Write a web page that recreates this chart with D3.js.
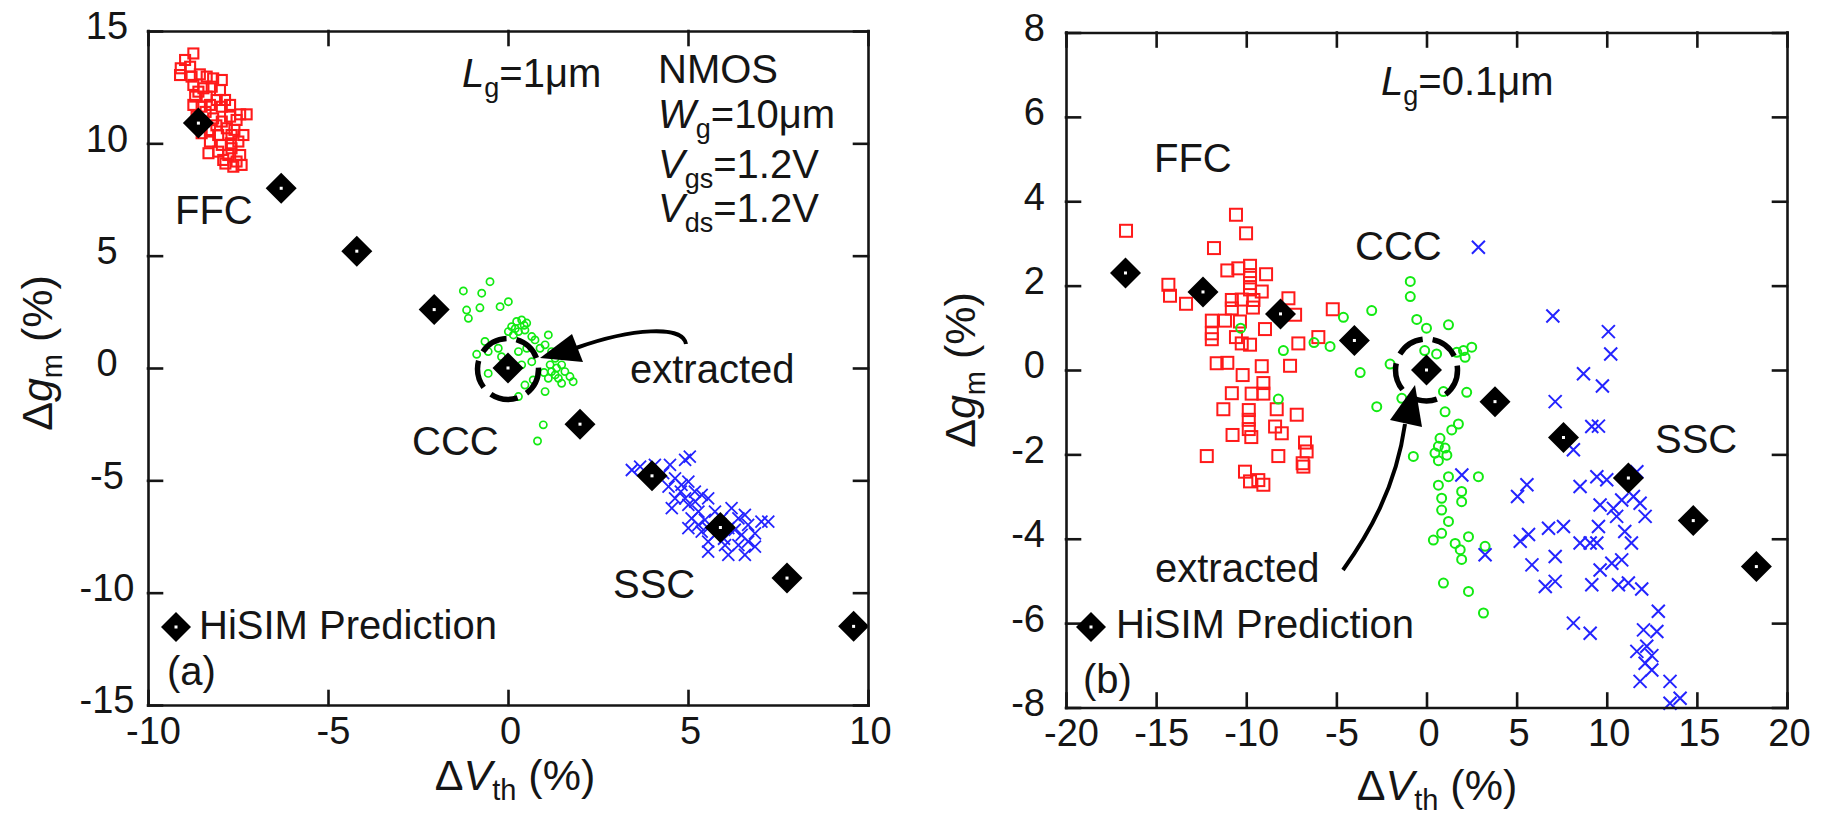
<!DOCTYPE html>
<html>
<head>
<meta charset="utf-8">
<script src="https://cdnjs.cloudflare.com/ajax/libs/d3/7.8.5/d3.min.js"></script>
<style>
  body { margin: 0; background: #fff; }
  svg text { font-family: "Liberation Sans", Arial, sans-serif; fill: #151515; }
</style>
</head>
<body>
<div id="chart"></div>
<script>
// ---- data (a): Lg = 1um ----
var aTicksX = [-10, -5, 0, 5, 10];
var aTicksY = [-15, -10, -5, 0, 5, 10, 15];
var aHisim = [[-8.6, 10.9], [-6.3, 8.0], [-4.2, 5.2], [-2.05, 2.6], [0, 0], [2.0, -2.5], [4.0, -4.8], [5.9, -7.1], [7.75, -9.35], [9.6, -11.5]];
var aFFC = [[-8.74, 14.0], [-8.97, 13.71], [-9.09, 13.34], [-8.83, 13.41], [-9.11, 13.04], [-8.79, 12.97], [-8.56, 13.07], [-8.37, 12.97],
  [-8.19, 12.89], [-7.95, 12.82], [-8.74, 12.6], [-8.46, 12.45], [-8.23, 12.52], [-8.0, 12.37], [-8.69, 12.08], [-8.37, 12.08],
  [-8.09, 11.93], [-7.86, 11.93], [-7.72, 11.71], [-8.74, 11.71], [-8.51, 11.63], [-8.28, 11.71], [-7.95, 11.63], [-7.44, 11.29],
  [-7.26, 11.29], [-7.72, 11.19], [-7.54, 11.04], [-8.65, 11.19], [-8.46, 10.97], [-8.19, 11.11], [-7.95, 10.97], [-7.81, 10.67],
  [-8.28, 10.59], [-8.51, 10.45], [-8.05, 10.37], [-7.68, 10.37], [-7.35, 10.37], [-7.49, 10.08], [-8.28, 10.08], [-7.95, 9.93],
  [-7.68, 9.78], [-8.32, 9.56], [-8.05, 9.63], [-7.77, 9.48], [-7.44, 9.48], [-7.54, 9.19], [-7.91, 9.26], [-7.40, 9.04], [-7.63, 8.96],
  [-8.1, 10.8], [-7.6, 10.6], [-8.4, 11.4], [-7.85, 9.1], [-8.6, 12.3], [-7.7, 10.0]];
var aCCC = [[-1.24, 3.43], [-0.73, 3.33], [-0.50, 3.84], [-1.15, 2.58], [-1.10, 2.21], [-0.78, 2.68], [-0.22, 2.73], [0.01, 2.95],
  [0.10, 1.84], [0.24, 2.07], [0.38, 2.14], [0.52, 2.0], [0.47, 1.69], [0.29, 1.62], [0.66, 1.40], [0.15, 1.47], [0.01, 1.62],
  [1.12, 1.47], [0.75, 1.25], [-0.64, 1.18], [-0.87, 0.61], [-0.55, 0.73], [-0.27, 0.88], [0.29, 0.73], [0.52, 0.88], [0.89, 0.88],
  [1.03, 1.03], [1.21, 0.73], [1.31, 0.43], [1.49, 0.14], [1.58, -0.16], [1.31, -0.31], [1.12, -0.46], [1.81, -0.61], [1.49, -0.68],
  [1.03, -1.05], [0.47, -0.76], [0.29, -1.27], [-0.55, -0.24], [0.70, -0.53], [1.17, 0.14], [1.35, 0.0], [1.40, -0.46], [1.21, -0.16],
  [1.72, -0.38], [0.98, -2.53], [0.82, -3.25], [-0.18, 0.5], [0.38, 0.14], [0.66, 0.28], [0.45, 1.9], [0.2, 1.75], [1.0, -0.2]];
var aSSC = [[3.44, -4.54], [3.67, -4.39], [4.08, -4.31], [4.31, -4.68], [4.50, -4.31], [4.92, -4.09], [5.05, -3.94], [4.64, -4.91],
  [4.46, -5.28], [4.82, -5.20], [5.01, -5.06], [5.19, -5.5], [4.64, -5.8], [4.92, -5.8], [5.38, -5.65], [5.56, -5.8], [5.01, -6.09],
  [4.55, -6.24], [5.29, -6.39], [5.75, -6.39], [6.21, -6.24], [5.10, -6.69], [5.47, -6.76], [5.94, -6.69], [6.40, -6.69], [6.58, -6.54],
  [6.12, -7.13], [6.67, -6.98], [7.04, -6.84], [7.23, -6.84], [5.01, -7.13], [5.38, -7.28], [5.75, -7.43], [6.49, -7.43], [6.86, -7.36],
  [5.56, -7.73], [6.03, -7.88], [6.40, -7.88], [6.67, -7.73], [6.86, -7.95], [5.56, -8.17], [6.12, -8.32], [6.58, -8.32], [5.29, -6.98],
  [5.56, -7.13], [5.9, -6.95], [6.3, -7.2], [5.2, -5.95], [4.8, -5.5], [6.0, -7.6]];

// ---- data (b): Lg = 0.1um ----
var bTicksX = [-20, -15, -10, -5, 0, 5, 10, 15, 20];
var bTicksY = [-8, -6, -4, -2, 0, 2, 4, 6, 8];
var bHisim = [[-16.7, 2.3], [-12.4, 1.85], [-8.1, 1.33], [-4.0, 0.7], [0, 0], [3.8, -0.75], [7.6, -1.6], [11.2, -2.56], [14.8, -3.57], [18.3, -4.66]];
var bFFC = [[-16.67, 3.30], [-10.57, 3.68], [-10.01, 3.24], [-11.79, 2.89], [-14.32, 2.02], [-14.23, 1.76], [-13.34, 1.57], [-11.05, 2.36],
  [-10.44, 2.41], [-9.79, 2.47], [-9.79, 2.25], [-8.90, 2.27], [-9.79, 2.06], [-9.79, 1.91], [-9.14, 1.86], [-10.8, 1.66], [-10.25, 1.67],
  [-9.6, 1.66], [-10.8, 1.46], [-9.63, 1.48], [-7.66, 1.70], [-7.29, 1.31], [-11.91, 1.17], [-11.18, 1.17], [-10.35, 1.15], [-11.91, 0.87],
  [-11.91, 0.73], [-10.57, 0.78], [-8.96, 0.97], [-10.25, 0.63], [-9.79, 0.60], [-5.2, 1.44], [-6.0, 0.78], [-7.11, 0.63], [-7.57, 0.10],
  [-11.64, 0.16], [-11.05, 0.17], [-10.2, -0.12], [-9.14, 0.09], [-9.05, -0.31], [-10.8, -0.55], [-9.7, -0.56], [-9.05, -0.56],
  [-11.27, -0.93], [-9.86, -0.95], [-9.86, -1.18], [-8.31, -0.93], [-7.2, -1.06], [-8.4, -1.34], [-8.03, -1.50], [-10.76, -1.54],
  [-9.72, -1.59], [-9.86, -1.40], [-12.19, -2.04], [-8.22, -2.04], [-6.74, -1.72], [-6.65, -1.93], [-6.87, -2.21], [-6.83, -2.29],
  [-10.07, -2.41], [-9.79, -2.64], [-9.33, -2.61], [-9.05, -2.72]];
var bCCC = [[-0.9, 2.1], [-0.9, 1.74], [-3.04, 1.41], [-4.61, 1.25], [-10.31, 0.99], [-7.94, 0.46], [-6.24, 0.65], [-5.35, 0.56],
  [-3.68, -0.06], [-8.22, -0.69], [-2.76, -0.87], [-0.54, 1.2], [0, 0.99], [1.22, 1.07], [2.05, 0.46], [2.51, 0.54], [-2.02, 0.14],
  [-1.37, -0.67], [0.94, -0.51], [2.23, -0.53], [1.03, -0.99], [1.77, -1.28], [1.4, -1.42], [0.75, -1.62], [0.66, -1.81], [1.03, -1.85],
  [0.47, -1.97], [1.13, -2.02], [-0.73, -2.05], [0.66, -2.15], [1.22, -2.53], [2.88, -2.53], [0.66, -2.73], [1.95, -2.88], [1.95, -3.12],
  [0.84, -3.04], [0.84, -3.32], [1.22, -3.59], [0.84, -3.87], [0.38, -4.03], [1.59, -4.11], [2.33, -3.95], [1.87, -4.26], [1.95, -4.49],
  [3.25, -4.18], [0.94, -5.05], [2.33, -5.25], [3.16, -5.76], [-0.1, 0.46], [0.56, 0.38], [1.68, 0.42], [2.14, 0.3]];
var bSSC = [[2.88, 2.91], [7.01, 1.28], [10.09, 0.91], [10.22, 0.38], [8.71, -0.09], [9.76, -0.38], [7.14, -0.75], [9.17, -1.34],
  [9.54, -1.33], [8.15, -1.89], [1.96, -2.49], [5.57, -2.72], [5.05, -3.0], [8.52, -2.76], [9.45, -2.53], [10.0, -2.6], [11.67, -2.41],
  [9.63, -3.2], [10.37, -3.28], [10.83, -3.08], [11.85, -3.16], [12.13, -3.47], [10.55, -3.47], [9.54, -3.71], [11.0, -3.83],
  [11.37, -4.1], [5.2, -4.06], [5.66, -3.9], [6.77, -3.75], [7.6, -3.71], [8.52, -4.1], [9.08, -4.1], [9.45, -4.1], [7.14, -4.42],
  [5.85, -4.62], [3.25, -4.38], [9.63, -4.74], [10.28, -4.58], [10.83, -4.50], [9.17, -5.09], [10.65, -5.09], [11.2, -5.05],
  [11.94, -5.19], [6.59, -5.13], [7.14, -5.01], [12.86, -5.72], [8.15, -6.0], [9.08, -6.24], [12.04, -6.16], [12.78, -6.2],
  [11.67, -6.67], [12.22, -6.55], [12.5, -6.77], [12.13, -6.95], [12.5, -7.11], [11.85, -7.38], [13.51, -7.38], [13.51, -7.9],
  [14.07, -7.78], [11.48, -3.0]];

var RED = "#ff1a1a", GREEN = "#12ea12", BLUE = "#2424ff", INK = "#151515";

var svg = d3.select("#chart")
    .append("svg")
    .attr("width", 1831)
    .attr("height", 820)
    .style("background", "#fff");

// scales for both panels
var xA = d3.scaleLinear().domain([-10, 10]).range([148, 868]);
var yA = d3.scaleLinear().domain([-15, 15]).range([705, 31]);
var xB = d3.scaleLinear().domain([-20, 20]).range([1066, 1787]);
var yB = d3.scaleLinear().domain([-8, 8]).range([707.5, 32.5]);

// box with inward ticks on every side
function drawFrame(x, y, xTicks, yTicks, labelX, labelAnchor) {
    var left = x.range()[0], right = x.range()[1];
    var top = y.range()[1], bottom = y.range()[0];
    var fmt = function (d) { return String(d); };

    var gb = svg.append("g").attr("transform", "translate(0," + bottom + ")")
        .call(d3.axisBottom(x).tickValues(xTicks).tickSizeInner(-14).tickSizeOuter(0).tickPadding(12).tickFormat(fmt));
    gb.selectAll("text").attr("dx", function (d) { return d < 0 ? 5 : 2; });

    var gl = svg.append("g").attr("transform", "translate(" + left + ",0)")
        .call(d3.axisLeft(y).tickValues(yTicks).tickSizeInner(-14).tickSizeOuter(0).tickFormat(fmt));
    gl.selectAll("text").attr("x", labelX).attr("dy", "0.21em").attr("text-anchor", labelAnchor);

    svg.append("g").attr("transform", "translate(0," + top + ")")
        .call(d3.axisTop(x).tickValues(xTicks).tickSizeInner(-14).tickSizeOuter(0).tickFormat(""));
    svg.append("g").attr("transform", "translate(" + right + ",0)")
        .call(d3.axisRight(y).tickValues(yTicks).tickSizeInner(-14).tickSizeOuter(0).tickFormat(""));
}

function squares(data, x, y, s, w) {
    svg.append("g").selectAll("rect").data(data).enter().append("rect")
        .attr("x", function (d) { return x(d[0]) - s / 2; })
        .attr("y", function (d) { return y(d[1]) - s / 2; })
        .attr("width", s).attr("height", s)
        .attr("fill", "none").attr("stroke", RED).attr("stroke-width", w);
}

function rings(data, x, y, r, w) {
    svg.append("g").selectAll("circle").data(data).enter().append("circle")
        .attr("cx", function (d) { return x(d[0]); })
        .attr("cy", function (d) { return y(d[1]); })
        .attr("r", r)
        .attr("fill", "none").attr("stroke", GREEN).attr("stroke-width", w);
}

function crosses(data, x, y, s, w) {
    svg.append("g").selectAll("path").data(data).enter().append("path")
        .attr("d", "M" + (-s) + "," + (-s) + "L" + s + "," + s + "M" + (-s) + "," + s + "L" + s + "," + (-s))
        .attr("transform", function (d) { return "translate(" + x(d[0]) + "," + y(d[1]) + ")"; })
        .attr("fill", "none").attr("stroke", BLUE).attr("stroke-width", w);
}

function diamond(g, r) {
    g.append("path").attr("d", "M0," + (-r) + "L" + r + ",0L0," + r + "L" + (-r) + ",0Z").attr("fill", "#000");
    g.append("rect").attr("x", -1.5).attr("y", -1.5).attr("width", 3).attr("height", 3).attr("fill", "#fff");
}

function diamonds(data, x, y, r) {
    svg.append("g").selectAll("g").data(data).enter().append("g")
        .attr("transform", function (d) { return "translate(" + x(d[0]) + "," + y(d[1]) + ")"; })
        .each(function () { diamond(d3.select(this), r); });
}

// text with italic main letter and subscript, parts: [text, style]
function rich(x, y, parts, size, anchor, rotate) {
    var t = svg.append("text")
        .attr("text-anchor", anchor || "start")
        .style("font-size", size + "px");
    if (rotate) t.attr("transform", "translate(" + x + "," + y + ") rotate(-90)");
    else t.attr("x", x).attr("y", y);
    var shift = 0;
    parts.forEach(function (p) {
        var s = t.append("tspan").text(p[0]);
        var want = p[1] === "sub" ? 10 : 0;
        if (want !== shift) { s.attr("dy", want - shift); shift = want; }
        if (p[1] === "sub") s.style("font-size", Math.round(size * 0.68) + "px");
        else s.style("font-size", size + "px");
        if (p[1] === "it") s.style("font-style", "italic");
    });
    return t;
}

function label(x, y, txt, size) {
    svg.append("text").attr("x", x).attr("y", y).style("font-size", (size || 40) + "px").text(txt);
}

function dashedRing(cx, cy, r) {
    svg.append("circle").attr("cx", cx).attr("cy", cy).attr("r", r)
        .attr("fill", "none").attr("stroke", "#000").attr("stroke-width", 5.5)
        .attr("stroke-dasharray", "28,10");
}

function arrow(shaft, head) {
    svg.append("path").attr("d", shaft).attr("fill", "none").attr("stroke", "#000").attr("stroke-width", 4);
    svg.append("path").attr("d", head).attr("fill", "#000");
}

// ===== panel (a) =====
squares(aFFC, xA, yA, 10, 2.1);
rings(aCCC, xA, yA, 3.6, 1.7);
crosses(aSSC, xA, yA, 6, 1.8);
dashedRing(xA(0), yA(0) + 1, 30.5);
arrow("M686,344 C683,325 632,328 576,348", "M540,358 L572,334 L583,362 Z");
diamonds(aHisim, xA, yA, 15.5);
drawFrame(xA, yA, aTicksX, aTicksY, -41, "middle");

rich(515, 790, [["\u0394", ""], ["V", "it"], ["th", "sub"], [" (%)", ""]], 43, "middle");
rich(52, 353, [["\u0394", ""], ["g", "it"], ["m", "sub"], [" (%)", ""]], 43, "middle", true);

rich(462, 87, [["L", "it"], ["g", "sub"], ["=1\u03bcm", ""]], 40);
label(658, 83, "NMOS");
rich(658, 128, [["W", "it"], ["g", "sub"], ["=10\u03bcm", ""]], 40);
rich(658, 178, [["V", "it"], ["gs", "sub"], ["=1.2V", ""]], 40);
rich(658, 222, [["V", "it"], ["ds", "sub"], ["=1.2V", ""]], 40);
label(175, 224, "FFC");
label(412, 455, "CCC");
label(613, 598, "SSC");
label(630, 383, "extracted");
var legA = svg.append("g").attr("transform", "translate(176,627)");
diamond(legA, 15);
label(199, 639, "HiSIM Prediction");
label(167, 685, "(a)");

// ===== panel (b) =====
squares(bFFC, xB, yB, 12, 2);
rings(bCCC, xB, yB, 4.5, 2);
crosses(bSSC, xB, yB, 6.5, 2);
dashedRing(xB(0), yB(0), 31);
arrow("M1343,570 C1368,535 1396,488 1405,424", "M1415,385 L1390,420 L1422,427 Z");
diamonds(bHisim, xB, yB, 15.5);
drawFrame(xB, yB, bTicksX, bTicksY, -21, "end");

rich(1437, 800, [["\u0394", ""], ["V", "it"], ["th", "sub"], [" (%)", ""]], 43, "middle");
rich(975, 370, [["\u0394", ""], ["g", "it"], ["m", "sub"], [" (%)", ""]], 43, "middle", true);

rich(1381, 95, [["L", "it"], ["g", "sub"], ["=0.1\u03bcm", ""]], 40);
label(1154, 172, "FFC");
label(1355, 260, "CCC");
label(1655, 453, "SSC");
label(1155, 582, "extracted");
var legB = svg.append("g").attr("transform", "translate(1091,627)");
diamond(legB, 15);
label(1116, 638, "HiSIM Prediction");
label(1083, 693, "(b)");

// axis styling
svg.selectAll(".domain, .tick line").attr("stroke", INK).attr("stroke-width", 2.6).attr("stroke-linecap", "square");
svg.selectAll(".tick text").style("font-size", "38px").style("font-family", "'Liberation Sans', Arial, sans-serif").attr("fill", INK);
</script>
</body>
</html>
